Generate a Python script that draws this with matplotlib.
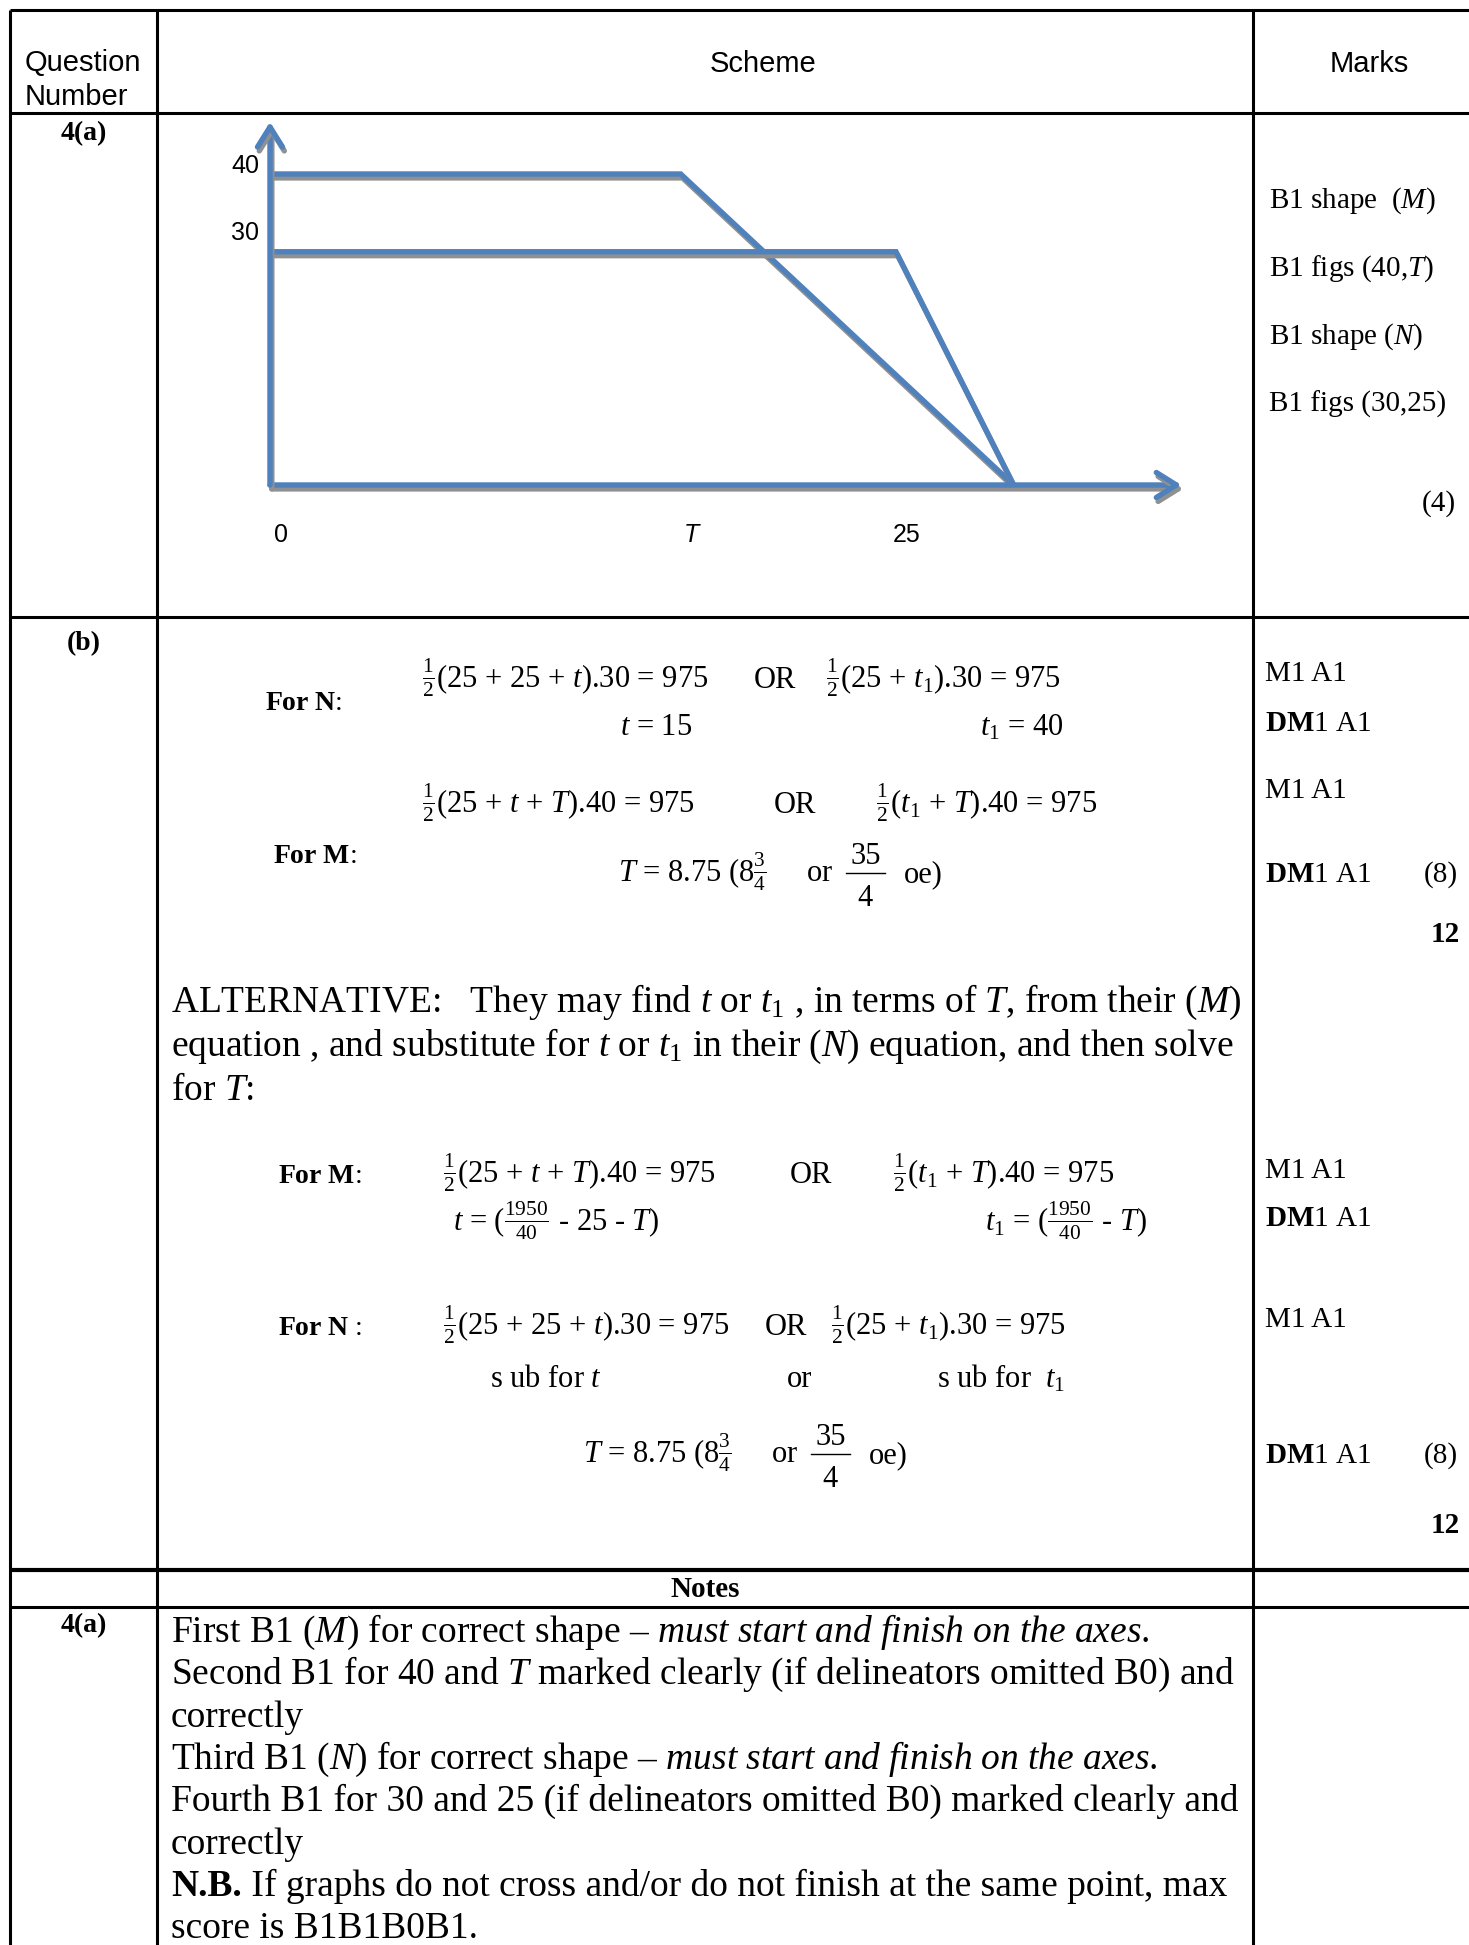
import matplotlib
matplotlib.use('Agg')
import matplotlib.pyplot as plt
import matplotlib.patheffects as pe

plt.rcParams['font.family'] = 'Liberation Serif'
plt.rcParams['mathtext.fontset'] = 'custom'
plt.rcParams['mathtext.rm'] = 'Liberation Serif'
plt.rcParams['mathtext.it'] = 'Liberation Serif:italic'
plt.rcParams['mathtext.bf'] = 'Liberation Serif:bold'

# speed-time sketch (sketch scale, not to scale)
m_times = [0, 16.4, 29.7]
m_speeds = [40, 40, 0]
n_times = [0, 25, 29.7]
n_speeds = [30, 30, 0]
x_ticks = [0, 16.4, 25]
x_labels = ['0', 'T', '25']
y_ticks = [40, 30]
y_labels = ['40', '30']

marks_a = ['B1 shape  ($M$)', 'B1 figs (40,$T$)', 'B1 shape ($N$)', 'B1 figs (30,25)']

eq_n = r'$\frac{1}{2}$(25 + 25 + $t$).30 = 975'
eq_n1 = r'$\frac{1}{2}$(25 + $t_1$).30 = 975'
eq_m = r'$\frac{1}{2}$(25 + $t$ + $T$).40 = 975'
eq_m1 = r'$\frac{1}{2}$($t_1$ + $T$).40 = 975'
eq_T = r'$T$ = 8.75 (8$\frac{3}{4}$     or'
frac_T = ('35', '4')
eq_t = r'$t$ = ($\frac{1950}{40}$ - 25 - $T$)'
eq_t1 = r'$t_1$ = ($\frac{1950}{40}$ - $T$)'

alt_lines = [
    r'ALTERNATIVE:   They may find $t$ or $t_1$ , in terms of $T$, from their ($M$)',
    r'equation , and substitute for $t$ or $t_1$ in their ($N$) equation, and then solve',
    r'for $T$:',
]

notes = [
    r'First B1 ($M$) for correct shape – $\mathit{must\ start\ and\ finish\ on\ the\ axes}$.',
    r'Second B1 for 40 and $T$ marked clearly (if delineators omitted B0) and',
    'correctly',
    r'Third B1 ($N$) for correct shape – $\mathit{must\ start\ and\ finish\ on\ the\ axes}$.',
    'Fourth B1 for 30 and 25 (if delineators omitted B0) marked clearly and',
    'correctly',
    ' If graphs do not cross and/or do not finish at the same point, max',
    'score is B1B1B0B1.',
]

BLUE = '#4F81BD'
W, H = 1469, 1945

fig = plt.figure(figsize=(W / 100, H / 100), dpi=100)
ax = fig.add_axes([0, 0, 1, 1])
ax.set_xlim(0, W)
ax.set_ylim(H, 0)
ax.axis('off')
rend = fig.canvas.get_renderer()


def txt(x, y, s, size=21, ha='left', **kw):
    return ax.text(x, y, s, fontsize=size, ha=ha, va='baseline', **kw)


def width(t):
    return t.get_window_extent(renderer=rend).width


def t_line(x, y, size):
    # "T = 8.75 (8 3/4  or 35/4  oe)" with a full size stacked fraction
    pre = txt(x, y, eq_T, size)
    cx = x + width(pre) + 32
    num = txt(cx, y - 18, frac_T[0], size, ha='center')
    half = width(num) / 2 + 4
    ax.plot([cx - half, cx + half], [y - 9, y - 9], color='k', lw=1.0)
    txt(cx, y + 24, frac_T[1], size, ha='center')
    txt(cx + 38, y, 'oe)', size)


# table grid
for x in [10, 157, 1253]:
    ax.plot([x, x], [10, H], color='k', lw=2.2, solid_capstyle='butt')
for y in [10, 113, 617, 1607]:
    ax.plot([10, W], [y, y], color='k', lw=2.2, solid_capstyle='butt')
ax.plot([10, W], [1570, 1570], color='k', lw=3.0, solid_capstyle='butt')

# header
sans = dict(family='Liberation Sans')
txt(25, 71, 'Question', 21, **sans)
txt(25, 105, 'Number', 21, **sans)
txt(763, 72, 'Scheme', 21, ha='center', **sans)
txt(1369, 72, 'Marks', 21, ha='center', **sans)

txt(84, 140, '4(a)', 20, ha='center', weight='bold')
txt(84, 650, '(b)', 20, ha='center', weight='bold')

# ---- sketch graph
X0, Y0, XS, YS = 270, 485, 25.04, 7.775
xmax, ymax = 37.5, 47.5
axd = fig.add_axes([X0 / W, (H - Y0) / H, xmax * XS / W, ymax * YS / H])
axd.set_xlim(0, xmax)
axd.set_ylim(0, ymax)
axd.axis('off')

shadow = [pe.SimpleLineShadow(offset=(1.3, -2.8), shadow_color='#909090', alpha=1.0), pe.Normal()]
for tip in [(36.4, 0), (0, 46.7)]:
    a = axd.annotate('', xy=tip, xytext=(0, 0), annotation_clip=False,
                     arrowprops=dict(arrowstyle='->,head_length=0.72,head_width=0.45',
                                     color=BLUE, lw=3.9, shrinkA=0, shrinkB=0,
                                     mutation_scale=20))
    a.arrow_patch.set_path_effects(shadow)

for tt, vv in [(m_times, m_speeds), (n_times, n_speeds)]:
    axd.plot(tt, vv, color=BLUE, lw=3.9, solid_joinstyle='miter',
             solid_capstyle='butt', path_effects=shadow, clip_on=False)

for v, lab in zip(x_ticks, x_labels):
    axd.annotate(lab, xy=(v, 0), xytext=(11, -50), textcoords='offset pixels',
                 ha='center', va='center', fontsize=18, family='Liberation Sans',
                 style='italic' if lab == 'T' else 'normal')
for v, lab, dy in zip(y_ticks, y_labels, [8, 19]):
    axd.annotate(lab, xy=(0, v), xytext=(-25, dy), textcoords='offset pixels',
                 ha='center', va='center', fontsize=18, family='Liberation Sans')

for i, s in enumerate(marks_a):
    txt(1269, 208 + 68 * i, s)
txt(1456, 511, '(4)', ha='right')

# ---- part (b)
EQ = 22
txt(265, 710, r'$\mathbf{For\ N}$:', 20)
txt(422, 688, eq_n, EQ)
txt(754, 688, 'OR', EQ)
txt(826, 688, eq_n1, EQ)
txt(620, 735, r'$t$ = 15', EQ)
txt(980, 735, r'$t_1$ = 40', EQ)
txt(422, 813, eq_m, EQ)
txt(774, 813, 'OR', EQ)
txt(876, 813, eq_m1, EQ)
txt(273, 863, r'$\mathbf{For\ M}$:', 20)
t_line(618, 882, EQ)

txt(1265, 681, 'M1 A1')
txt(1265, 731, r'$\mathbf{DM}$1 A1')
txt(1265, 798, 'M1 A1')
txt(1265, 882, r'$\mathbf{DM}$1 A1')
txt(1458, 882, '(8)', ha='right')
txt(1460, 942, '12', ha='right', weight='bold')

for i, s in enumerate(alt_lines):
    txt(171, 1012 + 44 * i, s, 27)

txt(278, 1183, r'$\mathbf{For\ M}$:', 20)
txt(443, 1183, eq_m, EQ)
txt(790, 1183, 'OR', EQ)
txt(893, 1183, eq_m1, EQ)
txt(453, 1231, eq_t, EQ)
txt(985, 1231, eq_t1, EQ)
txt(278, 1335, r'$\mathbf{For\ N}$ :', 20)
txt(443, 1335, eq_n, EQ)
txt(765, 1335, 'OR', EQ)
txt(831, 1335, eq_n1, EQ)
txt(546, 1387, r's ub for $t$', EQ, ha='center')
txt(800, 1387, 'or', EQ, ha='center')
txt(937, 1387, r's ub for  $t_1$', EQ)
t_line(583, 1463, EQ)

txt(1265, 1178, 'M1 A1')
txt(1265, 1226, r'$\mathbf{DM}$1 A1')
txt(1265, 1327, 'M1 A1')
txt(1265, 1463, r'$\mathbf{DM}$1 A1')
txt(1458, 1463, '(8)', ha='right')
txt(1460, 1533, '12', ha='right', weight='bold')

# ---- notes
txt(705, 1597, 'Notes', 21, ha='center', weight='bold')
txt(84, 1632, '4(a)', 20, ha='center', weight='bold')
for i, s in enumerate(notes):
    y = 1642 + 42.3 * i
    x = 171
    if i == 6:
        nb = txt(x, y, 'N.B.', 27, weight='bold')
        x += width(nb)
    txt(x, y, s, 27)

fig.savefig('out.png', dpi=100)
